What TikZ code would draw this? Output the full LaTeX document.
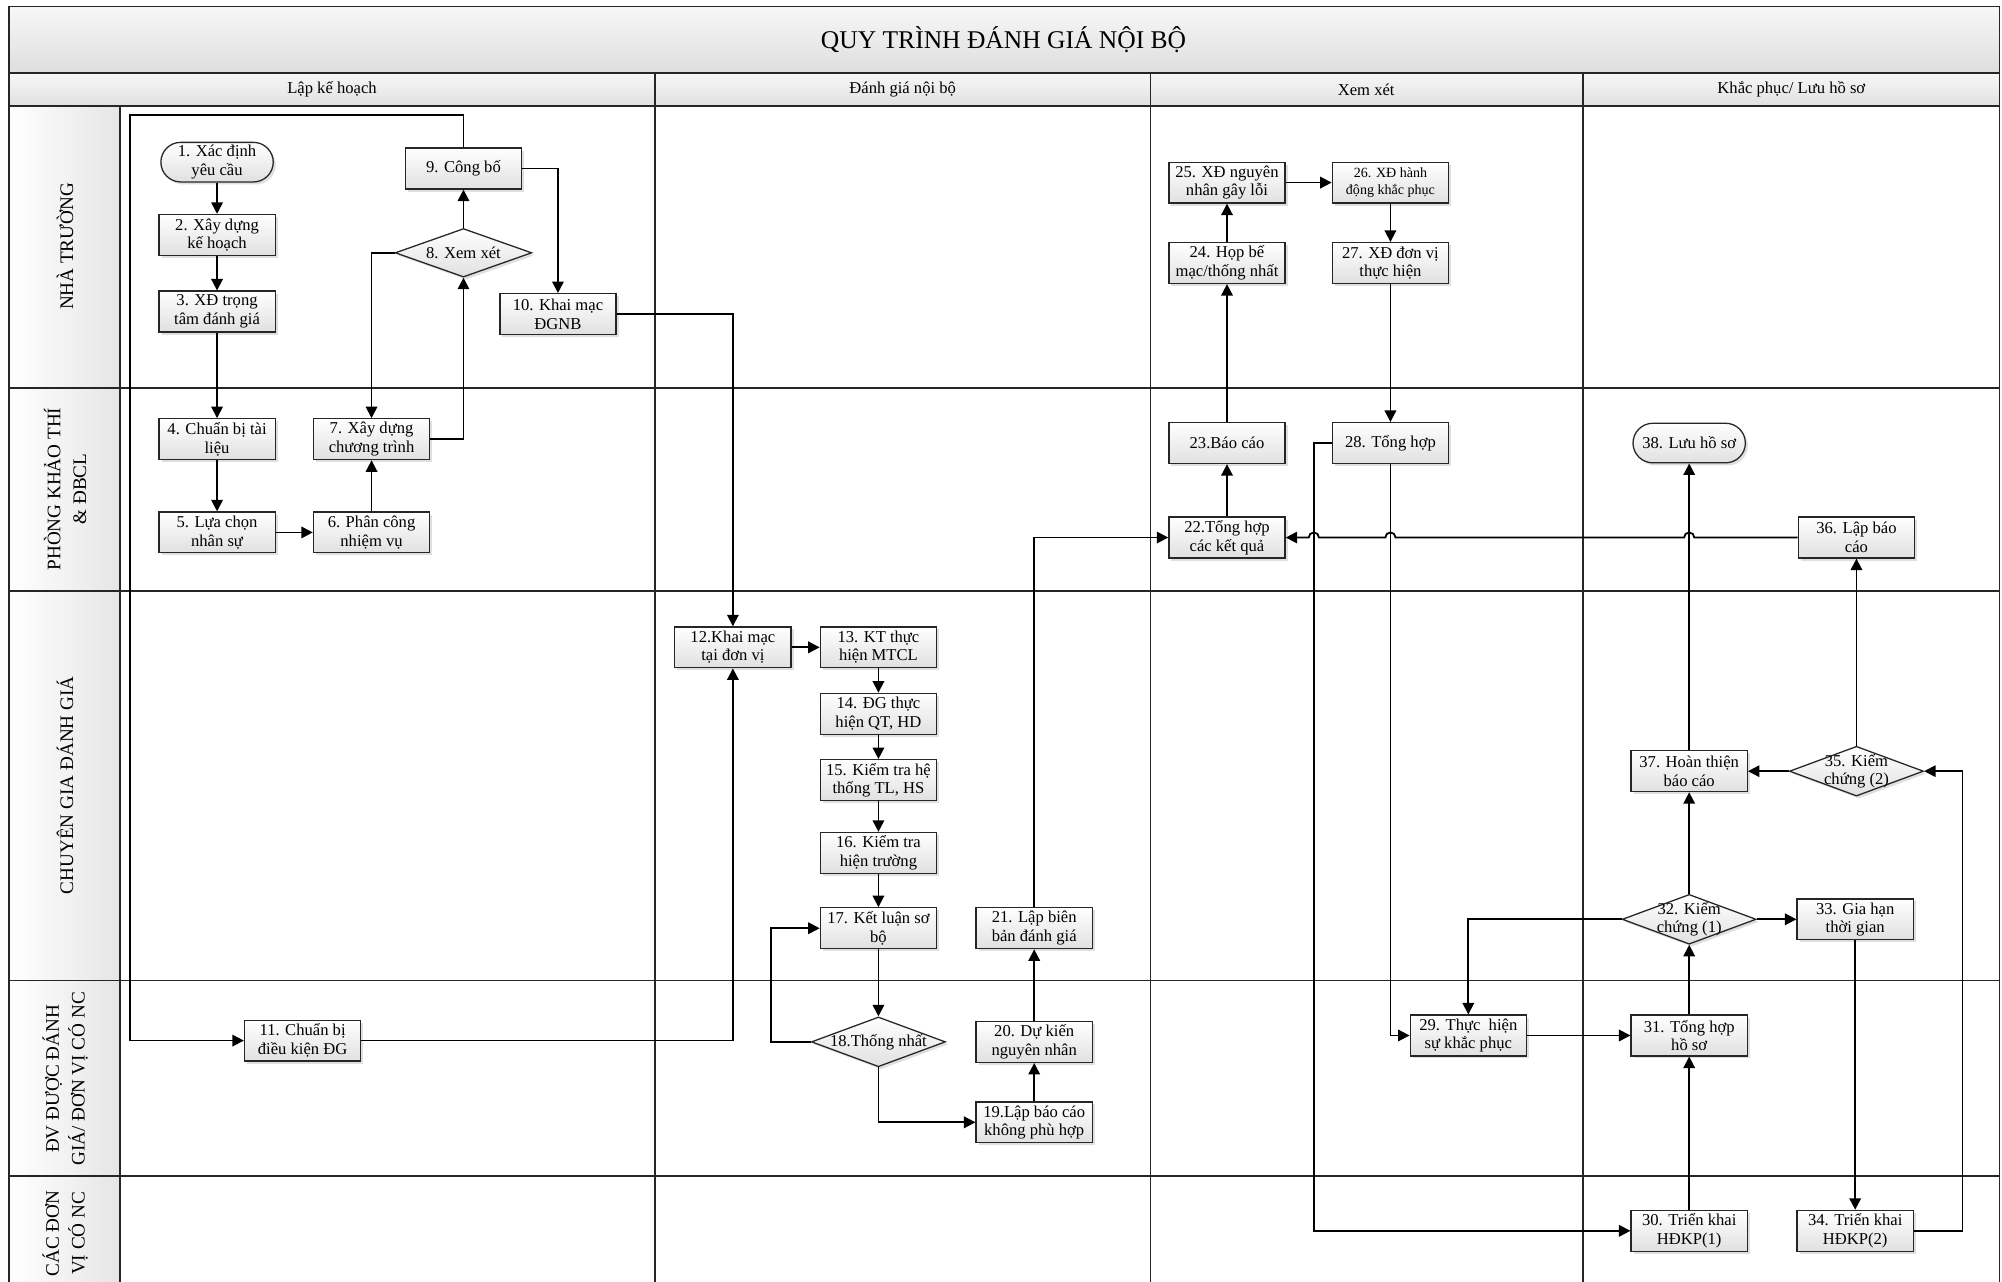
\documentclass[tikz,border=0pt]{standalone}
\usepackage{fontspec}
\setmainfont{Liberation Serif}
\usetikzlibrary{arrows.meta,shapes.geometric,shapes.misc,shadows}
\begin{document}
\begin{tikzpicture}[x=1pt,y=-1pt,
  grid/.style={line width=1.3pt, draw=black!85},
  box/.style={draw=black!85, line width=1pt, top color=white, bottom color=black!12,
    minimum width=91pt, minimum height=32pt, inner sep=1pt, align=center,
    font=\fontsize{13}{14.5}\selectfont,
    drop shadow={shadow xshift=2pt, shadow yshift=-2pt, opacity=0.25}},
  term/.style={box, rounded rectangle, minimum width=90pt, minimum height=31pt},
  dia/.style={diamond, draw=black!85, line width=1pt, top color=white, bottom color=black!12,
    minimum width=106pt, minimum height=39pt, inner sep=0pt,
    drop shadow={shadow xshift=2pt, shadow yshift=-2pt, opacity=0.25}},
  dtext/.style={align=center, font=\fontsize{13}{14.5}\selectfont},
  conn/.style={line width=1.4pt, draw=black, -{Triangle[length=9pt,width=9pt]}},
  lane/.style={rotate=90, align=center, font=\fontsize{15}{20}\selectfont},
  head/.style={font=\fontsize{13}{15}\selectfont},
]
\useasboundingbox (0,0) rectangle (1568,1004);
\fill[white] (0,0) rectangle (1568,1004);
% ---- frame and swimlanes
\shade[top color=black!3, bottom color=black!13] (7,5) rectangle (1566,57);
\shade[top color=black!3, bottom color=black!12] (7,57) rectangle (1566,83);
\shade[left color=white, right color=black!10] (7,83) rectangle (94,1004);
\draw[grid] (7,1004) -- (7,5) -- (1566,5) -- (1566,1004);
\draw[grid] (7,57) -- (1566,57);
\draw[grid] (7,83) -- (1566,83);
\foreach \yy in {304,463,768,921} \draw[grid] (7,\yy) -- (1566,\yy);
\draw[grid] (94,83) -- (94,1004);
\foreach \xx in {513,901,1240} \draw[grid] (\xx,57) -- (\xx,1004);
\node[font=\fontsize{20}{24}\selectfont] (title) at (786,31) {QUY TRÌNH ĐÁNH GIÁ NỘI BỘ};
\node[head] (h1) at (260,70) {Lập kế hoạch};
\node[head] (h2) at (707,70) {Đánh giá nội bộ};
\node[head] (h3) at (1070,70) {Xem xét};
\node[head] (h4) at (1403,70) {Khắc phục/ Lưu hồ sơ};
\node[lane] (l1) at (51,193) {NHÀ TRƯỜNG};
\node[lane] (l2) at (51,383) {PHÒNG KHẢO THÍ\\\& ĐBCL};
\node[lane] (l3) at (51,615) {CHUYÊN GIA ĐÁNH GIÁ};
\node[lane] (l4) at (51,845) {ĐV ĐƯỢC ĐÁNH\\GIÁ/ ĐƠN VỊ CÓ NC};
\node[lane] (l5) at (51,966) {CÁC ĐƠN\\VỊ CÓ NC};
% ---- nodes
\node[term] (n1) at (170,127) {1. Xác định\\yêu cầu};
\node[box] (n2) at (170,184) {2. Xây dựng\\kế hoạch};
\node[box] (n3) at (170,244) {3. XĐ trọng\\tâm đánh giá};
\node[box] (n4) at (170,344) {4. Chuẩn bị tài\\liệu};
\node[box] (n5) at (170,417) {5. Lựa chọn\\nhân sự};
\node[box] (n6) at (291,417) {6. Phân công\\nhiệm vụ};
\node[box] (n7) at (291,344) {7. Xây dựng\\chương trình};
\node[dia, minimum width=107pt, minimum height=38pt] (n8) at (363,198) {};
\node[dtext] (t8) at (n8.center) {8. Xem xét};
\node[box] (n9) at (363,132) {9. Công bố};
\node[box] (n10) at (437,246) {10. Khai mạc\\ĐGNB};
\node[box] (n11) at (237,815) {11. Chuẩn bị\\điều kiện ĐG};
\node[box] (n12) at (574,507) {12.Khai mạc\\tại đơn vị};
\node[box] (n13) at (688,507) {13. KT thực\\hiện MTCL};
\node[box] (n14) at (688,559) {14. ĐG thực\\hiện QT, HD};
\node[box] (n15) at (688,611) {15. Kiểm tra hệ\\thống TL, HS};
\node[box] (n16) at (688,668) {16. Kiểm tra\\hiện trường};
\node[box] (n17) at (688,727) {17. Kết luận sơ\\bộ};
\node[dia, minimum width=105pt] (n18) at (688,816) {};
\node[dtext] (t18) at (n18.center) {18.Thống nhất};
\node[box] (n19) at (810,879) {19.Lập báo cáo\\không phù hợp};
\node[box] (n20) at (810,816) {20. Dự kiến\\nguyên nhân};
\node[box] (n21) at (810,727) {21. Lập biên\\bản đánh giá};
\node[box] (n22) at (961,421) {22.Tổng hợp\\các kết quả};
\node[box] (n23) at (961,347) {23.Báo cáo};
\node[box] (n24) at (961,206) {24. Họp bế\\mạc/thống nhất};
\node[box] (n25) at (961,143) {25. XĐ nguyên\\nhân gây lỗi};
\node[box, font=\fontsize{11}{14}\selectfont] (n26) at (1089,143) {26. XĐ hành\\động khắc phục};
\node[box] (n27) at (1089,206) {27. XĐ đơn vị\\thực hiện};
\node[box] (n28) at (1089,347) {28. Tổng hợp};
\node[box] (n29) at (1150,811) {29. Thực\ \ hiện\\sự khắc phục};
\node[box] (n30) at (1323,964) {30. Triển khai\\HĐKP(1)};
\node[box] (n31) at (1323,811) {31. Tổng hợp\\hồ sơ};
\node[dia, minimum width=105pt] (n32) at (1323,720) {};
\node[dtext] (t32) at (n32.center) {32. Kiểm\\chứng (1)};
\node[box] (n33) at (1453,720) {33. Gia hạn\\thời gian};
\node[box] (n34) at (1453,964) {34. Triển khai\\HĐKP(2)};
\node[dia, minimum width=105pt] (n35) at (1454,604) {};
\node[dtext] (t35) at (n35.center) {35. Kiểm\\chứng (2)};
\node[box] (n36) at (1454,421) {36. Lập báo\\cáo};
\node[box] (n37) at (1323,604) {37. Hoàn thiện\\báo cáo};
\node[term] (n38) at (1323,347) {38. Lưu hồ sơ};
% ---- helper coordinates
\coordinate (loopTL) at (102,90);
\coordinate (c18) at (604,816);
\coordinate (c28) at (1029,347);
\coordinate (c34) at (1537,964);
\coordinate (hopA) at (1327,421);
\coordinate (hopB) at (1093,421);
\coordinate (hopC) at (1033,421);
% ---- connectors
\draw[conn] (n1.south) -- (n2.north);
\draw[conn] (n2.south) -- (n3.north);
\draw[conn] (n3.south) -- (n4.north);
\draw[conn] (n4.south) -- (n5.north);
\draw[conn] (n5.east) -- (n6.west);
\draw[conn] (n6.north) -- (n7.south);
\draw[conn] (n7.east) -| (n8.south);
\draw[conn] (n8.west) -| (n7.north);
\draw[conn] (n8.north) -- (n9.south);
\draw[conn] (n9.east) -| (n10.north);
\draw[conn] (n9.north) |- (loopTL) |- (n11.west);
\draw[conn] (n10.east) -| (n12.north);
\draw[conn] (n11.east) -| (n12.south);
\draw[conn] (n12.east) -- (n13.west);
\draw[conn] (n13.south) -- (n14.north);
\draw[conn] (n14.south) -- (n15.north);
\draw[conn] (n15.south) -- (n16.north);
\draw[conn] (n16.south) -- (n17.north);
\draw[conn] (n17.south) -- (n18.north);
\draw[conn] (n18.west) -- (c18) |- (n17.west);
\draw[conn] (n18.south) |- (n19.west);
\draw[conn] (n19.north) -- (n20.south);
\draw[conn] (n20.north) -- (n21.south);
\draw[conn] (n21.north) |- (n22.west);
\draw[conn] (n22.north) -- (n23.south);
\draw[conn] (n23.north) -- (n24.south);
\draw[conn] (n24.north) -- (n25.south);
\draw[conn] (n25.east) -- (n26.west);
\draw[conn] (n26.south) -- (n27.north);
\draw[conn] (n27.south) -- (n28.north);
\draw[conn] (n28.south) |- (n29.west);
\draw[conn] (n28.west) -- (c28) |- (n30.west);
\draw[conn] (n29.east) -- (n31.west);
\draw[conn] (n30.north) -- (n31.south);
\draw[conn] (n31.north) -- (n32.south);
\draw[conn] (n32.west) -| (n29.north);
\draw[conn] (n32.east) -- (n33.west);
\draw[conn] (n32.north) -- (n37.south);
\draw[conn] (n33.south) -- (n34.north);
\draw[conn] (n34.east) -- (c34) |- (n35.east);
\draw[conn] (n35.west) -- (n37.east);
\draw[conn] (n35.north) -- (n36.south);
\draw[conn] (n37.north) -- (n38.south);
\draw[conn] (n36.west) -- (hopA) arc[start angle=0, end angle=-180, radius=4]
  -- (hopB) arc[start angle=0, end angle=-180, radius=4]
  -- (hopC) arc[start angle=0, end angle=-180, radius=4]
  -- (n22.east);
\end{tikzpicture}
\end{document}
